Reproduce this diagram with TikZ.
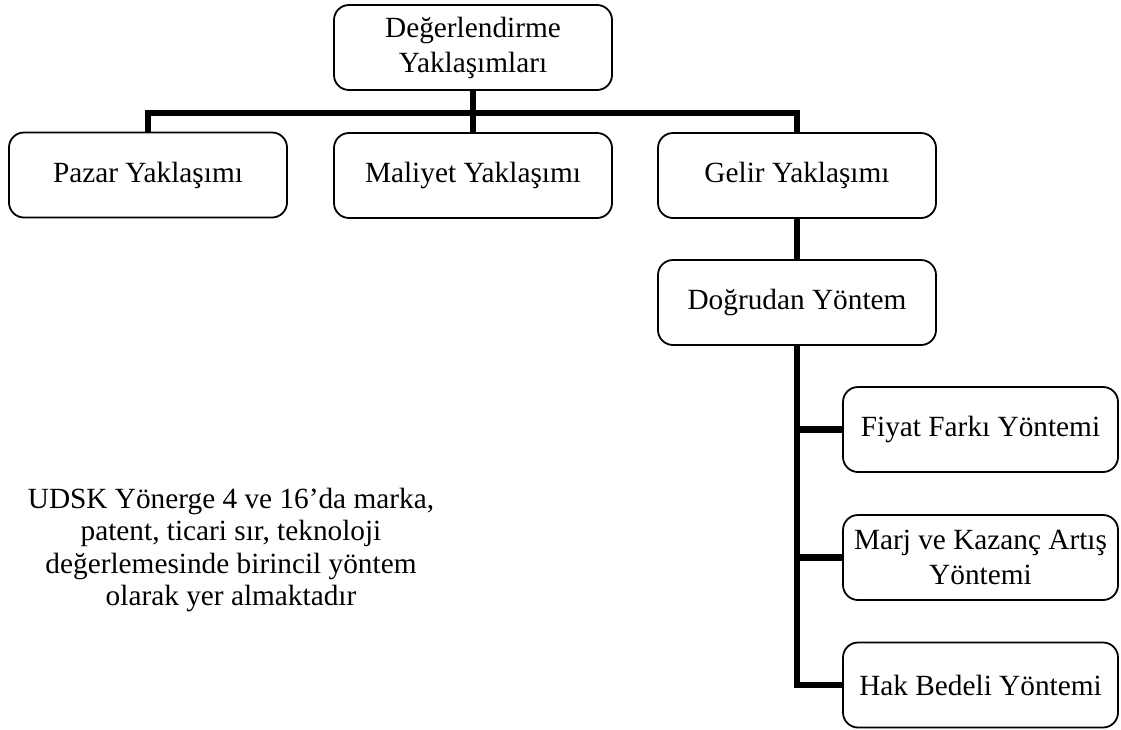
\documentclass[tikz,border=0pt]{standalone}
\usepackage{fontspec}
\setmainfont{Liberation Serif}
\begin{document}
\begin{tikzpicture}[x=1pt,y=-1pt,
  box/.style={draw=black, line width=1.8pt, rounded corners=15pt, fill=white,
    minimum width=278pt, minimum height=85pt, inner sep=2pt, align=center,
    font=\fontsize{29.3}{35}\selectfont},
  conn/.style={draw=black, line width=6.5pt, line join=miter, line cap=butt},
  note/.style={align=center, inner sep=0pt, font=\fontsize{29.3}{32.5}\selectfont}]
\useasboundingbox (0,0) rectangle (1121,729);

% level of the horizontal bus under the top box
\coordinate (bus) at (0,113);

% top level
\node[box] (top) at (473,47.5) {Değerlendirme\\Yaklaşımları};

% approaches
\node[box] (pazar)   at (148,175) {Pazar Yaklaşımı};
\node[box] (maliyet) at (473,175.5) {Maliyet Yaklaşımı};
\node[box] (gelir)   at (797,175.5) {Gelir Yaklaşımı};

% income approach breakdown
\node[box] (dogru) at (797,302.5) {Doğrudan Yöntem};
\node[box, minimum width=275pt] (fiyat) at (980.5,429.5) {Fiyat Farkı Yöntemi};
\node[box, minimum width=275pt] (marj)  at (980.5,557.5) {Marj ve Kazanç Artış\\Yöntemi};
\node[box, minimum width=275pt] (hak)   at (980.5,685) {Hak Bedeli Yöntemi};

% connectors
\draw[conn] (pazar.north) |- (gelir.north |- bus) -- (gelir.north);
\draw[conn] (top.south) -- (maliyet.north);
\draw[conn] (gelir.south) -- (dogru.north);
\draw[conn] (dogru.south) |- (hak.west);
\draw[conn] (fiyat.west) -- (fiyat.west -| dogru.south);
\draw[conn] (marj.west) -- (marj.west -| dogru.south);

% explanatory note
\node[note] (aciklama) at (231,550) {UDSK Yönerge 4 ve 16’da marka,\\patent, ticari sır, teknoloji\\değerlemesinde birincil yöntem\\olarak yer almaktadır};
\end{tikzpicture}
\end{document}
